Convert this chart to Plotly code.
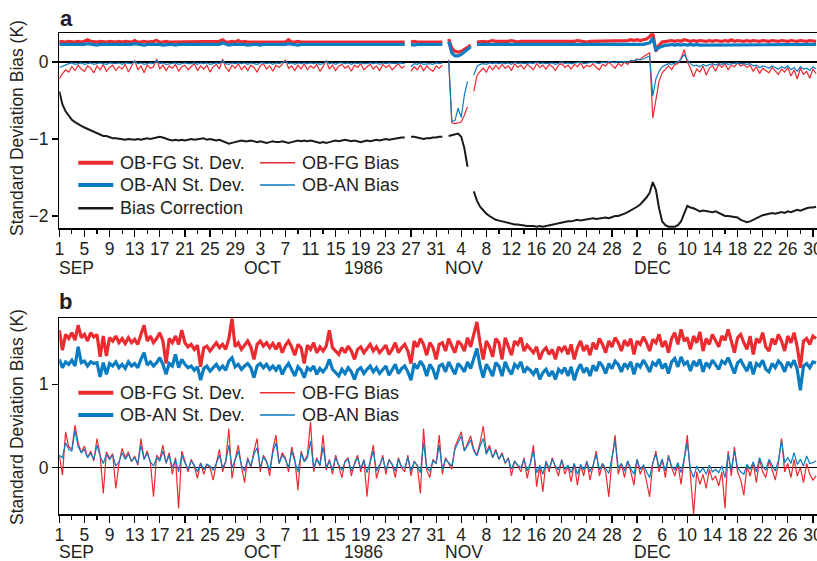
import plotly.graph_objects as go
import pandas as pd

W, H = 817, 561
RED = "#ec2b30"
BLUE = "#0a7cc1"
BLACK = "#1a1a1a"
TXT = "#231f20"
FONT = "Liberation Sans, Arial, Helvetica, sans-serif"
N = None

# ---------------- Panel a (12-hourly values from 1 Sep 1986) ----------------
a_fg_sd = [
    0.27,0.26,0.26,0.27,0.26,0.26,0.27,0.26,0.27,0.29,
    0.27,0.26,0.26,0.27,0.26,0.26,0.27,0.26,0.26,0.27,
    0.26,0.27,0.26,0.26,0.28,0.26,0.26,0.27,0.26,0.26,
    0.27,0.28,0.26,0.26,0.27,0.26,0.26,0.27,0.26,0.26,
    0.27,0.26,0.26,0.27,0.26,0.26,0.27,0.26,0.26,0.27,
    0.26,0.27,0.29,0.26,0.26,0.27,0.26,0.28,0.26,0.27,
    0.26,0.26,0.27,0.26,0.26,0.27,0.26,0.26,0.27,0.26,
    0.26,0.27,0.26,0.29,0.26,0.26,0.27,0.26,0.26,0.27,
    0.26,0.26,0.27,0.26,0.26,0.27,0.26,0.27,0.26,0.26,
    0.27,0.26,0.26,0.27,0.26,0.26,0.27,0.26,0.26,0.27,
    0.26,0.26,0.27,0.26,0.27,0.26,0.26,0.27,0.26,0.26,
    0.26,N,0.26,0.27,0.26,0.26,0.27,0.26,0.26,0.27,
    0.26,0.27,0.26,N,0.30,0.18,0.14,0.13,0.14,0.16,
    0.19,0.22,N,0.26,0.27,0.27,0.26,0.27,0.28,0.27,
    0.27,0.26,0.27,0.27,0.28,0.27,0.26,0.27,0.27,0.26,
    0.27,0.27,0.26,0.27,0.26,0.27,0.27,0.26,0.27,0.27,
    0.26,0.27,0.27,0.26,0.27,0.28,0.27,0.27,0.26,0.27,
    0.27,0.28,0.27,0.27,0.28,0.27,0.28,0.27,0.28,0.28,
    0.27,0.28,0.29,0.28,0.29,0.28,0.29,0.30,0.33,0.38,
    0.14,0.22,0.26,0.27,0.27,0.28,0.27,0.28,0.27,0.29,
    0.28,0.27,0.28,0.27,0.28,0.27,0.27,0.28,0.27,0.28,
    0.27,0.27,0.28,0.27,0.29,0.27,0.28,0.27,0.27,0.28,
    0.27,0.28,0.27,0.27,0.28,0.27,0.27,0.28,0.27,0.27,
    0.28,0.27,0.27,0.28,0.27,0.27,0.28,0.27,0.27,0.28,
    0.27,0.27,
]
a_an_sd = [
    0.23,0.23,0.22,0.23,0.23,0.22,0.23,0.23,0.23,0.24,
    0.23,0.23,0.22,0.23,0.23,0.23,0.22,0.23,0.23,0.23,
    0.23,0.22,0.23,0.23,0.24,0.23,0.23,0.22,0.23,0.23,
    0.23,0.24,0.23,0.22,0.23,0.23,0.23,0.22,0.23,0.23,
    0.22,0.23,0.23,0.23,0.22,0.23,0.23,0.23,0.22,0.23,
    0.23,0.23,0.25,0.23,0.22,0.23,0.23,0.24,0.23,0.23,
    0.22,0.23,0.23,0.23,0.22,0.23,0.23,0.22,0.23,0.23,
    0.23,0.22,0.23,0.24,0.23,0.23,0.22,0.23,0.23,0.23,
    0.22,0.23,0.23,0.22,0.23,0.23,0.23,0.22,0.23,0.23,
    0.23,0.22,0.23,0.23,0.22,0.23,0.23,0.23,0.22,0.23,
    0.23,0.22,0.23,0.23,0.23,0.22,0.23,0.23,0.22,0.23,
    0.23,N,0.23,0.22,0.23,0.23,0.22,0.23,0.23,0.23,
    0.22,0.23,0.23,N,0.27,0.12,0.08,0.08,0.10,0.13,
    0.17,0.20,N,0.23,0.23,0.22,0.23,0.23,0.22,0.23,
    0.23,0.22,0.23,0.23,0.22,0.23,0.23,0.22,0.23,0.22,
    0.23,0.23,0.22,0.23,0.22,0.23,0.22,0.23,0.23,0.22,
    0.23,0.22,0.23,0.22,0.23,0.23,0.22,0.23,0.22,0.23,
    0.22,0.23,0.22,0.23,0.23,0.22,0.23,0.23,0.22,0.23,
    0.23,0.22,0.23,0.23,0.22,0.23,0.23,0.24,0.25,0.31,
    0.16,0.19,0.21,0.22,0.22,0.23,0.22,0.23,0.22,0.23,
    0.22,0.23,0.22,0.23,0.22,0.22,0.23,0.22,0.23,0.22,
    0.22,0.23,0.22,0.22,0.23,0.22,0.22,0.23,0.22,0.22,
    0.23,0.22,0.22,0.23,0.22,0.22,0.23,0.22,0.22,0.23,
    0.22,0.22,0.23,0.22,0.22,0.23,0.22,0.22,0.23,0.22,
    0.22,0.23,
]
a_fg_bias = [
    -0.22,-0.15,-0.10,-0.13,-0.06,-0.11,-0.04,-0.09,-0.12,-0.05,
    -0.08,-0.14,-0.05,-0.10,-0.03,-0.12,-0.07,-0.04,-0.11,-0.06,
    -0.09,-0.03,-0.13,-0.06,0.02,-0.10,-0.05,-0.14,-0.04,-0.08,
    -0.06,0.04,-0.09,-0.04,-0.11,-0.05,-0.08,-0.03,-0.12,-0.06,
    -0.04,-0.10,-0.06,-0.02,-0.11,-0.05,-0.09,-0.04,-0.13,-0.06,
    -0.03,-0.09,0.04,-0.07,-0.12,-0.04,-0.08,-0.02,-0.10,-0.05,
    -0.11,-0.04,-0.07,-0.13,-0.05,-0.02,-0.09,-0.05,-0.12,-0.04,
    -0.07,-0.03,0.03,-0.08,-0.05,-0.11,-0.04,-0.09,-0.02,-0.10,
    -0.05,-0.08,-0.03,-0.12,-0.06,0.02,-0.09,-0.04,-0.11,-0.05,
    -0.03,-0.08,-0.05,-0.12,-0.04,-0.07,-0.02,-0.10,-0.06,-0.03,
    -0.09,-0.05,-0.11,-0.03,-0.07,-0.04,-0.10,-0.06,-0.02,-0.08,
    -0.05,N,-0.12,-0.06,-0.10,-0.04,-0.11,-0.05,-0.09,-0.12,
    -0.05,-0.08,-0.04,N,0.03,-0.79,-0.80,-0.79,-0.78,-0.69,
    -0.58,N,-0.38,-0.18,-0.12,-0.08,-0.13,-0.05,-0.10,-0.04,
    -0.09,-0.03,-0.08,-0.05,-0.11,-0.02,-0.07,-0.04,-0.09,-0.03,
    -0.06,-0.10,-0.02,-0.07,-0.04,-0.09,-0.03,-0.06,-0.11,-0.04,
    -0.02,-0.07,-0.04,-0.09,-0.03,-0.06,-0.01,-0.08,-0.04,-0.06,
    -0.02,-0.07,-0.10,-0.03,-0.05,0.00,-0.04,-0.08,-0.02,-0.05,
    0.00,-0.03,0.02,0.01,0.04,0.03,0.07,0.10,0.12,-0.73,
    -0.49,-0.25,-0.14,-0.09,-0.05,-0.10,-0.03,-0.02,0.05,0.16,
    0.00,-0.08,-0.19,-0.09,-0.13,-0.05,-0.17,-0.08,-0.04,-0.12,
    -0.03,-0.07,-0.02,-0.10,-0.04,-0.06,-0.01,-0.05,-0.03,-0.07,
    -0.04,-0.12,-0.06,-0.15,-0.08,-0.11,-0.14,-0.07,-0.12,-0.16,
    -0.09,-0.13,-0.07,-0.18,-0.10,-0.22,-0.08,-0.16,-0.12,-0.21,
    -0.09,-0.15,
]
a_an_bias = [
    -0.07,-0.05,-0.03,-0.02,-0.01,-0.03,-0.02,-0.01,-0.03,-0.02,
    -0.01,-0.03,-0.02,-0.01,-0.02,-0.03,-0.01,-0.02,-0.02,-0.01,
    -0.03,-0.01,-0.02,-0.02,0.01,-0.02,-0.01,-0.03,-0.02,-0.01,
    -0.02,0.02,-0.02,-0.01,-0.03,-0.02,-0.01,-0.01,-0.03,-0.02,
    -0.01,-0.02,-0.02,-0.01,-0.03,-0.01,-0.02,-0.01,-0.03,-0.02,
    -0.01,-0.02,0.02,-0.02,-0.03,-0.01,-0.02,-0.01,-0.02,-0.01,
    -0.03,-0.01,-0.02,-0.03,-0.01,-0.01,-0.02,-0.01,-0.03,-0.01,
    -0.02,-0.01,0.01,-0.02,-0.01,-0.03,-0.01,-0.02,-0.01,-0.02,
    -0.01,-0.02,-0.01,-0.03,-0.02,0.01,-0.02,-0.01,-0.03,-0.01,
    -0.01,-0.02,-0.01,-0.03,-0.01,-0.02,-0.01,-0.02,-0.02,-0.01,
    -0.02,-0.01,-0.03,-0.01,-0.02,-0.01,-0.02,-0.02,-0.01,-0.02,
    -0.02,N,-0.06,-0.02,-0.03,-0.01,-0.03,-0.02,-0.02,-0.03,
    -0.01,-0.02,-0.01,N,0.02,-0.77,-0.76,-0.60,-0.72,-0.43,
    -0.25,N,-0.17,-0.06,-0.03,-0.02,-0.03,-0.01,-0.02,-0.01,
    -0.02,-0.01,-0.02,-0.01,-0.03,0.00,-0.02,-0.01,-0.02,-0.01,
    -0.01,-0.02,0.00,-0.02,-0.01,-0.02,-0.01,-0.01,-0.03,-0.01,
    0.00,-0.02,-0.01,-0.02,-0.01,-0.01,0.00,-0.02,-0.01,-0.01,
    0.00,-0.01,-0.02,0.00,-0.01,0.01,0.00,-0.01,0.01,0.00,
    0.01,0.00,0.02,0.02,0.03,0.03,0.04,0.06,0.08,-0.44,
    -0.22,-0.12,-0.06,-0.04,-0.02,-0.03,-0.01,0.00,0.04,0.10,
    0.03,-0.02,-0.05,-0.04,-0.06,-0.03,-0.05,-0.03,-0.02,-0.04,
    -0.02,-0.03,-0.01,-0.03,-0.02,-0.02,-0.01,-0.02,-0.02,-0.03,
    -0.02,-0.05,-0.04,-0.07,-0.05,-0.06,-0.08,-0.05,-0.07,-0.09,
    -0.06,-0.08,-0.05,-0.10,-0.07,-0.12,-0.06,-0.09,-0.08,-0.11,
    -0.06,-0.09,
]
a_bias_corr = [
    -0.38,-0.55,-0.64,-0.70,-0.75,-0.78,-0.81,-0.83,-0.85,-0.87,
    -0.89,-0.91,-0.93,-0.94,-0.96,-0.96,-0.98,-0.99,-0.99,-1.00,
    -1.00,-1.01,-1.00,-1.01,-1.01,-1.00,-1.01,-1.00,-0.99,-1.00,
    -0.99,-0.98,-0.97,-0.98,-1.00,-1.01,-1.02,-1.01,-1.02,-1.01,
    -1.02,-1.01,-1.00,-1.01,-1.00,-1.00,-0.99,-1.01,-1.00,-1.01,
    -1.02,-1.01,-1.03,-1.04,-1.06,-1.05,-1.04,-1.03,-1.02,-1.03,
    -1.03,-1.02,-1.03,-1.04,-1.03,-1.04,-1.05,-1.04,-1.03,-1.04,
    -1.04,-1.03,-1.04,-1.05,-1.04,-1.03,-1.02,-1.03,-1.02,-1.03,
    -1.02,-1.03,-1.04,-1.05,-1.04,-1.05,-1.04,-1.03,-1.02,-1.03,
    -1.02,-1.01,-1.02,-1.03,-1.02,-1.03,-1.04,-1.03,-1.02,-1.03,
    -1.02,-1.01,-1.02,-1.01,-1.00,-1.01,-1.00,-0.99,-0.99,-0.98,
    -0.98,N,-0.97,-0.97,-0.98,-0.99,-1.00,-0.99,-0.99,-0.98,
    -0.98,-0.97,-0.97,N,-0.96,-0.95,-0.94,-0.93,-0.97,-1.12,
    -1.36,N,-1.68,-1.80,-1.88,-1.93,-1.97,-2.00,-2.03,-2.05,
    -2.06,-2.07,-2.09,-2.09,-2.10,-2.11,-2.11,-2.12,-2.12,-2.13,
    -2.13,-2.13,-2.14,-2.13,-2.14,-2.13,-2.13,-2.12,-2.11,-2.10,
    -2.09,-2.08,-2.07,-2.07,-2.06,-2.05,-2.06,-2.05,-2.04,-2.04,
    -2.03,-2.04,-2.03,-2.03,-2.02,-2.03,-2.01,-2.00,-2.00,-1.99,
    -1.97,-1.95,-1.93,-1.91,-1.88,-1.85,-1.81,-1.76,-1.70,-1.56,
    -1.66,-1.90,-2.07,-2.12,-2.14,-2.14,-2.14,-2.12,-2.07,-1.97,
    -1.87,-1.89,-1.90,-1.92,-1.94,-1.93,-1.94,-1.95,-1.95,-1.94,
    -1.96,-1.99,-2.00,-2.00,-2.01,-2.01,-2.02,-2.05,-2.07,-2.08,
    -2.07,-2.05,-2.02,-2.00,-1.99,-1.98,-1.97,-1.96,-1.97,-1.96,
    -1.95,-1.96,-1.94,-1.95,-1.93,-1.92,-1.93,-1.91,-1.90,-1.89,
    -1.89,-1.88,
]

# ---------------- Panel b ----------------
b_fg_sd = [
    1.65,1.41,1.60,1.55,1.62,1.53,1.71,1.56,1.60,1.52,
    1.62,1.57,1.60,1.33,1.58,1.34,1.56,1.52,1.58,1.50,
    1.55,1.49,1.56,1.50,1.54,1.48,1.60,1.71,1.52,1.58,
    1.50,1.55,1.62,1.52,1.25,1.55,1.50,1.58,1.48,1.65,
    1.50,1.45,1.48,1.42,1.47,1.21,1.44,1.46,1.40,1.45,
    1.50,1.44,1.48,1.42,1.55,1.79,1.45,1.50,1.42,1.47,
    1.52,1.45,1.30,1.48,1.52,1.46,1.50,1.44,1.49,1.42,
    1.50,1.38,1.47,1.52,1.45,1.35,1.48,1.44,1.25,1.47,
    1.42,1.50,1.38,1.45,1.40,1.46,1.65,1.44,1.40,1.36,
    1.44,1.38,1.46,1.40,1.30,1.42,1.45,1.38,1.43,1.48,
    1.40,1.45,1.38,1.43,1.47,1.36,1.42,1.50,1.38,1.44,
    1.48,1.40,1.25,1.52,1.45,1.55,1.48,1.35,1.50,1.44,
    1.30,1.48,1.50,1.40,1.55,1.46,1.38,1.52,1.48,1.40,
    1.56,1.45,1.60,1.75,1.50,1.30,1.52,1.45,1.33,1.55,
    1.50,1.30,1.56,1.45,1.35,1.52,1.48,1.56,1.40,1.47,
    1.43,1.38,1.45,1.30,1.40,1.44,1.36,1.42,1.30,1.45,
    1.40,1.46,1.36,1.48,1.30,1.44,1.52,1.40,1.47,1.35,
    1.50,1.42,1.55,1.48,1.38,1.52,1.45,1.56,1.50,1.40,
    1.53,1.46,1.55,1.36,1.52,1.48,1.57,1.50,1.40,1.54,
    1.50,1.60,1.45,1.52,1.38,1.55,1.62,1.48,1.66,1.52,
    1.56,1.42,1.58,1.50,1.63,1.40,1.55,1.48,1.60,1.52,
    1.45,1.58,1.53,1.66,1.50,1.38,1.56,1.60,1.50,1.42,
    1.58,1.36,1.55,1.50,1.62,1.45,1.40,1.55,1.48,1.60,
    1.52,1.40,1.58,1.50,1.62,1.45,1.20,1.52,1.55,1.48,
    1.58,1.55,
]
b_an_sd = [
    1.30,1.20,1.27,1.24,1.29,1.22,1.45,1.26,1.28,1.22,
    1.27,1.25,1.26,1.09,1.26,1.12,1.25,1.22,1.27,1.20,
    1.24,1.19,1.27,1.22,1.25,1.20,1.30,1.38,1.23,1.27,
    1.22,1.26,1.32,1.24,1.12,1.25,1.22,1.36,1.20,1.30,
    1.24,1.20,1.22,1.17,1.21,1.05,1.19,1.22,1.16,1.20,
    1.24,1.18,1.22,1.17,1.28,1.32,1.21,1.24,1.18,1.22,
    1.25,1.20,1.08,1.22,1.25,1.20,1.24,1.18,1.22,1.17,
    1.23,1.12,1.20,1.25,1.18,1.10,1.21,1.17,1.08,1.20,
    1.17,1.22,1.12,1.19,1.15,1.20,1.30,1.18,1.14,1.10,
    1.18,1.13,1.20,1.15,1.06,1.17,1.20,1.13,1.18,1.22,
    1.15,1.20,1.13,1.18,1.22,1.11,1.17,1.24,1.13,1.19,
    1.22,1.15,1.05,1.25,1.19,1.28,1.22,1.10,1.24,1.18,
    1.06,1.22,1.24,1.15,1.27,1.19,1.12,1.25,1.21,1.15,
    1.27,1.19,1.30,1.43,1.22,1.08,1.24,1.18,1.10,1.26,
    1.22,1.10,1.27,1.18,1.12,1.24,1.20,1.27,1.14,1.20,
    1.17,1.12,1.19,1.06,1.14,1.18,1.10,1.16,1.06,1.18,
    1.14,1.20,1.10,1.21,1.05,1.17,1.24,1.14,1.20,1.10,
    1.23,1.16,1.27,1.22,1.13,1.25,1.19,1.28,1.24,1.15,
    1.25,1.20,1.27,1.12,1.25,1.21,1.29,1.23,1.15,1.26,
    1.23,1.30,1.19,1.25,1.13,1.27,1.31,1.21,1.33,1.24,
    1.27,1.16,1.28,1.22,1.30,1.15,1.26,1.21,1.29,1.24,
    1.18,1.28,1.25,1.32,1.22,1.13,1.26,1.29,1.22,1.16,
    1.27,1.12,1.25,1.22,1.29,1.18,1.15,1.25,1.20,1.28,
    1.24,1.15,1.27,1.22,1.29,1.18,0.93,1.22,1.25,1.20,
    1.27,1.26,
]
b_fg_bias = [
    0.15,-0.09,0.43,0.25,0.22,0.51,0.30,0.18,0.26,0.12,
    0.20,0.08,0.35,0.15,-0.31,0.19,0.11,0.17,-0.25,0.05,
    0.23,0.12,0.19,0.07,0.14,0.03,0.35,0.10,0.20,0.06,
    -0.35,0.15,0.10,0.27,0.05,0.18,-0.08,0.12,-0.49,0.20,
    0.08,-0.05,0.10,0.02,-0.13,0.06,-0.08,0.04,0.00,-0.15,
    0.05,0.22,-0.05,0.08,0.47,-0.13,0.10,0.27,0.02,-0.18,
    0.12,0.00,0.20,0.35,-0.05,0.15,0.08,-0.10,0.22,0.39,
    0.05,0.18,0.12,-0.05,0.25,0.10,-0.27,0.20,0.08,0.15,
    0.55,-0.05,0.12,0.02,0.39,-0.03,0.10,-0.08,0.15,0.02,
    -0.12,0.08,0.12,-0.10,0.05,0.15,-0.05,0.10,-0.35,0.08,
    0.27,-0.13,0.02,0.15,-0.08,0.10,0.04,-0.12,0.12,0.00,
    -0.05,0.15,-0.10,0.08,0.02,-0.31,0.47,-0.03,-0.12,0.10,
    0.05,0.39,-0.08,0.12,0.05,-0.02,0.25,0.35,0.43,0.20,
    0.30,0.38,0.22,0.15,0.30,0.50,0.18,0.27,0.12,0.22,
    0.10,0.18,0.05,0.12,-0.10,0.08,0.02,-0.05,0.12,-0.13,
    0.05,0.27,-0.23,0.02,-0.29,0.08,-0.05,0.12,0.00,-0.10,
    0.10,-0.08,0.02,-0.17,0.05,-0.21,0.03,-0.10,0.08,-0.15,
    0.02,0.20,-0.10,0.05,-0.05,-0.35,0.10,0.39,-0.08,0.05,
    -0.12,0.08,-0.05,-0.21,0.10,-0.08,0.02,-0.15,-0.35,0.05,
    0.20,-0.05,0.10,-0.12,0.15,0.00,-0.10,0.05,-0.20,0.10,
    0.39,-0.10,-0.56,-0.05,-0.20,-0.08,-0.25,-0.02,-0.15,-0.10,
    -0.22,-0.05,-0.49,0.20,-0.10,0.25,-0.05,-0.15,-0.33,0.02,
    -0.10,0.05,-0.18,0.10,-0.05,-0.12,0.08,-0.02,-0.15,0.05,
    0.35,-0.05,0.05,-0.12,0.10,-0.10,0.00,-0.18,0.05,-0.08,
    -0.15,-0.10,
]
b_an_bias = [
    0.15,0.12,0.30,0.22,0.20,0.45,0.25,0.18,0.22,0.12,
    0.17,0.10,0.27,0.14,0.05,0.16,0.10,0.15,0.02,0.07,
    0.18,0.10,0.16,0.08,0.12,0.05,0.27,0.10,0.17,0.07,
    0.02,0.12,0.08,0.20,0.06,0.15,0.00,0.10,-0.05,0.15,
    0.06,-0.02,0.08,0.03,-0.05,0.05,-0.02,0.04,0.02,-0.03,
    0.05,0.15,0.00,0.07,0.27,0.00,0.09,0.20,0.03,-0.04,
    0.10,0.02,0.16,0.24,0.00,0.13,0.07,-0.03,0.18,0.30,
    0.05,0.15,0.10,0.00,0.20,0.08,-0.05,0.17,0.07,0.12,
    0.32,0.00,0.10,0.03,0.25,0.00,0.08,-0.03,0.12,0.03,
    -0.03,0.07,0.10,-0.04,0.05,0.12,-0.01,0.09,-0.06,0.07,
    0.20,-0.04,0.03,0.12,-0.03,0.09,0.04,-0.04,0.10,0.01,
    0.00,0.12,-0.04,0.07,0.03,-0.06,0.30,0.00,-0.04,0.08,
    0.05,0.27,-0.02,0.10,0.06,0.02,0.22,0.30,0.38,0.20,
    0.27,0.33,0.20,0.14,0.26,0.35,0.16,0.24,0.12,0.20,
    0.10,0.16,0.06,0.11,-0.02,0.08,0.03,0.00,0.10,-0.04,
    0.05,0.20,-0.06,0.03,-0.08,0.07,-0.01,0.10,0.02,-0.03,
    0.09,-0.02,0.03,-0.06,0.05,-0.08,0.04,-0.03,0.07,-0.05,
    0.03,0.16,-0.03,0.05,-0.01,-0.07,0.12,0.33,0.00,0.05,
    -0.04,0.08,-0.01,-0.08,0.10,-0.02,0.03,-0.05,-0.12,0.06,
    0.16,0.00,0.10,-0.04,0.13,0.02,-0.03,0.06,-0.06,0.10,
    0.30,-0.02,-0.12,0.02,-0.06,0.00,-0.08,0.03,-0.05,-0.02,
    -0.06,0.02,-0.12,0.16,-0.03,0.20,0.00,-0.05,-0.08,0.04,
    -0.02,0.07,-0.05,0.12,0.02,-0.03,0.10,0.03,-0.04,0.08,
    0.33,0.06,0.12,0.05,0.18,0.04,0.10,0.02,0.14,0.05,
    0.06,0.08,
]

tick_labels = ["1","5","9","13","17","21","25","29","3","7","11","15","19",
               "23","27","31","4","8","12","16","20","24","28","2","6","10",
               "14","18","22","26","30"]
month_labels = ["SEP", "OCT", "1986", "NOV", "DEC"]
legend_labels = ["OB-FG St. Dev.", "OB-FG Bias", "OB-AN St. Dev.",
                 "OB-AN Bias", "Bias Correction"]
y_title = "Standard Deviation Bias (K)"

start = pd.Timestamp("1986-09-01")


def times(vals):
    return [start + pd.Timedelta(hours=12 * i) for i in range(len(vals))]


fig = go.Figure()


def add(y, color, width, xa, ya):
    fig.add_trace(go.Scatter(x=times(y), y=y, mode="lines",
                             line=dict(color=color, width=width),
                             connectgaps=False, showlegend=False,
                             hoverinfo="skip", xaxis=xa, yaxis=ya))


add(a_fg_sd, RED, 3.2, "x", "y")
add(a_an_sd, BLUE, 3.2, "x", "y")
add(a_fg_bias, RED, 1.2, "x", "y")
add(a_an_bias, BLUE, 1.2, "x", "y")
add(a_bias_corr, BLACK, 2.0, "x", "y")

add(b_fg_sd, RED, 3.2, "x2", "y2")
add(b_an_sd, BLUE, 3.2, "x2", "y2")
add(b_fg_bias, RED, 1.2, "x2", "y2")
add(b_an_bias, BLUE, 1.2, "x2", "y2")

tick_vals = [start + pd.Timedelta(days=4 * i) for i in range(len(tick_labels))]
x_end = start + pd.Timedelta(days=120.65)


def px_x(p):
    return p / W


def px_y(p):
    return 1 - p / H


xdom = [px_x(59.3), 1.0]
ya_dom = [px_y(228.3), px_y(33.3)]
yb_dom = [px_y(514.3), px_y(318.3)]

xcommon = dict(type="date", range=[start, x_end], domain=xdom,
               automargin=False, ticklabeloverflow="allow",
               ticklabelstandoff=-3,
               tickmode="array", tickvals=tick_vals, ticktext=tick_labels,
               ticks="outside", ticklen=7, tickwidth=1.2, tickcolor="black",
               showline=True, linecolor="black", linewidth=1.4, mirror=True,
               showgrid=False, zeroline=False,
               tickfont=dict(family=FONT, size=17.5, color=TXT),
               minor=dict(tickmode="linear", tick0=start, dtick=2 * 86400000,
                          ticks="outside", ticklen=4, tickwidth=1.2,
                          tickcolor="black", showgrid=False))
ycommon = dict(ticks="outside", ticklen=6, tickwidth=1.2, tickcolor="black",
               automargin=False,
               showline=True, linecolor="black", linewidth=1.4, mirror=False,
               showgrid=False, zeroline=True, zerolinecolor="black",
               zerolinewidth=1.4,
               tickfont=dict(family=FONT, size=17.5, color=TXT))

fig.update_layout(
    template="none",
    width=W, height=H, margin=dict(l=0, r=0, t=0, b=0, pad=0),
    paper_bgcolor="white", plot_bgcolor="white",
    font=dict(family=FONT, size=17, color=TXT),
    xaxis=dict(anchor="y", **xcommon),
    xaxis2=dict(anchor="y2", **xcommon),
    yaxis=dict(anchor="x", domain=ya_dom, range=[-2.16, 0.374],
               tickmode="array", tickvals=[-2, -1, 0],
               ticktext=["\u22122", "\u22121", "0"], **ycommon),
    yaxis2=dict(anchor="x2", domain=yb_dom, range=[-0.56, 1.793],
                tickmode="array", tickvals=[0, 1], ticktext=["0", "1"],
                **ycommon),
)

ann = []
# month labels under each panel
month_pos = [(start, "left"),
             (start + pd.Timedelta(days=32.3), "center"),
             (start + pd.Timedelta(days=48.4), "center"),
             (start + pd.Timedelta(days=64.4), "center"),
             (start + pd.Timedelta(days=94.45), "center")]
for xr, yy in (("x", 267.5), ("x2", 551.5)):
    for lab, (xv, anc) in zip(month_labels, month_pos):
        ann.append(dict(x=xv, xref=xr, y=px_y(yy), yref="paper", text=lab,
                        showarrow=False, xanchor=anc, yanchor="middle",
                        xshift=-2 if anc == "left" else 0,
                        font=dict(family=FONT, size=17.5, color=TXT)))
# panel letters
for lab, (xx, yy) in (("a", (66, 19)), ("b", (65, 301))):
    ann.append(dict(x=px_x(xx), xref="paper", y=px_y(yy), yref="paper",
                    text="<b>%s</b>" % lab, showarrow=False, xanchor="center",
                    yanchor="middle",
                    font=dict(family=FONT, size=22, color=TXT)))
# y titles
for yy in (128, 417):
    ann.append(dict(x=px_x(17), xref="paper", y=px_y(yy), yref="paper",
                    text=y_title, textangle=-90, showarrow=False,
                    xanchor="center", yanchor="middle",
                    font=dict(family=FONT, size=17.5, color=TXT)))

shapes = []
legend_styles = [(RED, 4.0), (RED, 1.4), (BLUE, 4.0), (BLUE, 1.4), (BLACK, 2.4)]
col_pos = [(78.3, 113.3, 118.0), (260.0, 295.0, 299.5)]


def legend(rows_y, n_items):
    for i in range(n_items):
        r, c = divmod(i, 2)
        x0, x1, xt = col_pos[c]
        yy = rows_y[r]
        color, w = legend_styles[i]
        shapes.append(dict(type="line", xref="paper", yref="paper",
                           x0=px_x(x0), x1=px_x(x1), y0=px_y(yy), y1=px_y(yy),
                           line=dict(color=color, width=w)))
        ann.append(dict(x=px_x(xt), xref="paper", y=px_y(yy), yref="paper",
                        text=legend_labels[i], showarrow=False, xanchor="left",
                        yanchor="middle",
                        font=dict(family=FONT, size=18, color=TXT)))


legend([162.7, 185.0, 208.3], 5)
legend([392.7, 415.0], 4)

fig.update_layout(annotations=ann, shapes=shapes)
fig.write_html(
    "out.html",
    config={"displayModeBar": False, "staticPlot": True},
    post_script="document.body.style.margin='0';"
                "document.body.style.overflow='hidden';",
)
